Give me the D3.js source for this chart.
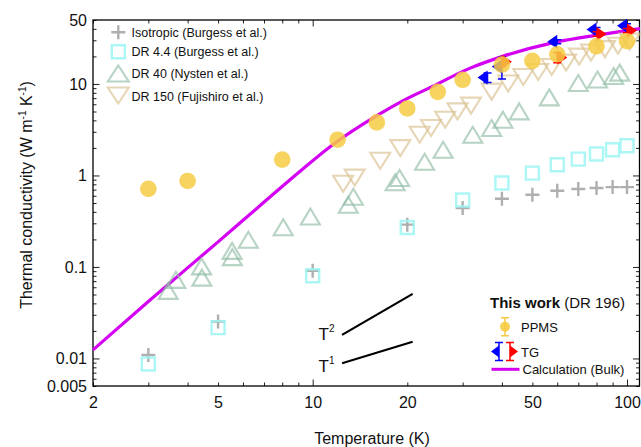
<!DOCTYPE html>
<html>
<head>
<meta charset="utf-8">
<script src="https://cdn.jsdelivr.net/npm/d3@7"></script>
<style>
  body { margin: 0; background: #fff; }
  svg text { font-family: "Liberation Sans", Arial, sans-serif; fill: #111; }
</style>
</head>
<body>
<div id="chart"></div>
<script>
// values (T in K, kappa in W m-1 K-1)
const isoT = [3, 5, 10, 20, 30, 40, 50, 60, 70, 80, 90, 100];
const isoK = [0.0109, 0.0253, 0.091, 0.29, 0.44, 0.556, 0.615, 0.68, 0.71, 0.728, 0.746, 0.746];

const dr44T = [3, 5, 10, 20, 30, 40, 50, 60, 70, 80, 90, 100];
const dr44K = [0.0087, 0.0217, 0.08, 0.27, 0.54, 0.826, 1.06, 1.31, 1.51, 1.715, 1.91, 2.11];

const dr40T = [3.47, 3.67, 4.43, 4.44, 5.54, 5.55, 6.24, 8.06, 9.83, 12.98, 13.47, 18.3, 18.9,
               22.7, 26.0, 32.3, 37.1, 40.3, 45.4, 56.6, 70.0, 80.6, 90.7, 94.8];
const dr40K = [0.0548, 0.0722, 0.1015, 0.0764, 0.150, 0.128, 0.198, 0.272, 0.356, 0.478, 0.585, 0.843, 0.937,
               1.41, 1.91, 2.79, 3.30, 4.07, 5.01, 7.14, 10.25, 11.2, 12.2, 13.3];

const dr150T = [12.5, 13.6, 16.4, 19.0, 21.9, 23.8, 26.4, 28.9, 31.9, 37.1, 41.9, 46.8, 52.2, 57.6,
                64.0, 70.4, 76.8, 85.1, 93.6, 102];
const dr150K = [0.811, 0.948, 1.45, 1.99, 2.79, 3.30, 4.07, 5.01, 5.79, 8.24, 10.1, 11.9, 13.5, 15.3,
                17.1, 19.9, 22.0, 24.0, 26.2, 29.0];

const ppmsT = [3, 4, 8, 12, 16, 20, 25, 30, 40, 50, 60, 80, 100];
const ppmsK = [0.715, 0.87, 1.49, 2.46, 3.8, 5.4, 8.2, 11.1, 16.3, 17.9, 21.1, 25.8, 29.3];

const tgBlueT = [36, 40, 60, 80, 100];
const tgBlueK = [11.8, 15.5, 29.0, 39.3, 43.4];
const tgBlueErr = [1.4, 4.2, 1.5, 2.0, 2.0];

const tgRedT = [40, 60, 80, 100];
const tgRedK = [17.5, 19.5, 35.2, 38.3];
const tgRedErr = [2.0, 2.5, 2.0, 2.0];

const calcT = [2, 3, 5, 7.14, 9.24, 11.36, 16.4, 20.25, 23.6, 31.7, 40, 58.4, 82.2, 110];
const calcK = [0.0124, 0.042, 0.188, 0.542, 1.154, 2.06, 4.73, 7.08, 9.11, 14.9, 19.9, 28.3, 34.6, 40.3];

// guide power laws
const t2T = [12.4, 20.8], t2K = [0.0181, 0.0508];
const t1T = [12.4, 20.8], t1K = [0.00886, 0.0152];

// tick labels
const xLabels = [2, 5, 10, 20, 50, 100];
const yLabels = [0.005, 0.01, 0.1, 1, 10, 50];

const width = 641, height = 447;
const margin = {top: 20, right: 1, bottom: 61, left: 93};

const svg = d3.select("#chart").append("svg")
  .attr("width", width)
  .attr("height", height);

const x = d3.scaleLog().domain([2, 110]).range([margin.left, width - margin.right]);
const y = d3.scaleLog().domain([0.005, 50]).range([height - margin.bottom, margin.top]);

const x0 = margin.left, x1 = width - margin.right, y0 = height - margin.bottom, y1 = margin.top;

// all minor/major tick positions
const xTicks = [1, 10, 100].flatMap(d => d3.range(1, 10).map(m => m * d)).filter(v => v >= 2 && v <= 110);
const yTicks = [0.001, 0.01, 0.1, 1, 10].flatMap(d => d3.range(1, 10).map(m => m * d))
  .filter(v => v >= 0.0049 && v <= 50.01);

const near = (v, arr) => arr.find(a => Math.abs(a - v) / a < 1e-6);
const isDecade = v => Math.abs(Math.log10(v) - Math.round(Math.log10(v))) < 1e-6;
const tickLen = v => isDecade(v) ? 6.5 : 3.5;

// Axes (ticks point inward)
const gb = svg.append("g").attr("transform", `translate(0,${y0})`)
  .call(d3.axisBottom(x).tickValues(xTicks).tickSizeInner(-3.5).tickSizeOuter(0).tickPadding(11)
    .tickFormat(d => near(d, xLabels) !== undefined ? String(near(d, xLabels)) : ""));
gb.selectAll(".tick line").attr("y2", d => -tickLen(d));

const gt = svg.append("g").attr("transform", `translate(0,${y1})`)
  .call(d3.axisTop(x).tickValues(xTicks).tickSizeInner(-3.5).tickSizeOuter(0).tickFormat(""));
gt.selectAll(".tick line").attr("y2", d => tickLen(d));

const gl = svg.append("g").attr("transform", `translate(${x0},0)`)
  .call(d3.axisLeft(y).tickValues(yTicks).tickSizeInner(-4).tickSizeOuter(0).tickPadding(6)
    .tickFormat(d => near(d, yLabels) !== undefined ? String(near(d, yLabels)) : ""));
gl.selectAll(".tick line").attr("x2", d => tickLen(d));

const gr = svg.append("g").attr("transform", `translate(${x1 - 0.5},0)`)
  .call(d3.axisRight(y).tickValues(yTicks).tickSizeInner(-4).tickSizeOuter(0).tickFormat(""));
gr.selectAll(".tick line").attr("x2", d => -tickLen(d));

svg.selectAll(".domain").remove();
[gb, gt, gl, gr].forEach(g => {
  g.attr("font-size", 16).attr("font-family", null);
  g.selectAll(".tick line").attr("stroke", "#222").attr("stroke-width", 1);
  g.selectAll(".tick text").attr("fill", "#111");
});

svg.append("rect")
  .attr("x", x0).attr("y", y1)
  .attr("width", x1 - x0 - 0.5).attr("height", y0 - y1)
  .attr("fill", "none").attr("stroke", "#000").attr("stroke-width", 1.3);

// axis titles
svg.append("text")
  .attr("x", 372).attr("y", 444)
  .attr("text-anchor", "middle").attr("font-size", 16)
  .text("Temperature (K)");

const yt = svg.append("text")
  .attr("transform", "translate(32,195) rotate(-90)")
  .attr("text-anchor", "middle").attr("font-size", 16);
yt.append("tspan").text("Thermal conductivity (W m");
yt.append("tspan").attr("dy", -6).attr("font-size", 10).text("-1");
yt.append("tspan").attr("dy", 6).text(" K");
yt.append("tspan").attr("dy", -6).attr("font-size", 10).text("-1");
yt.append("tspan").attr("dy", 6).text(")");

// marker shapes
const crossPath = s => `M${-s},0H${s}M0,${-s}V${s}`;
const squarePath = s => `M${-s},${-s}H${s}V${s}H${-s}Z`;
const triUp = (w, h) => `M0,${-h / 2}L${w / 2},${h / 2}L${-w / 2},${h / 2}Z`;
const triDown = (w, h) => `M0,${h / 2}L${w / 2},${-h / 2}L${-w / 2},${-h / 2}Z`;
const caretLeft = (w, h) => `M0,${-h / 2}L${-w},0L0,${h / 2}Z`;
const caretRight = (w, h) => `M0,${-h / 2}L${w},0L0,${h / 2}Z`;

const col = {
  iso: "#a6a6a6", dr44: "#9ef5f5", dr40: "#8fbba3", dr150: "#d9c08f",
  gold: "#f6cb43", calc: "#d400f2", blue: "#0000ff", red: "#ff0000"
};

const plot = svg.append("g");

// calculation curve
const line = d3.line().x(d => x(d[0])).y(d => y(d[1])).curve(d3.curveMonotoneX);
plot.append("path")
  .datum(d3.zip(calcT, calcK))
  .attr("d", line)
  .attr("fill", "none").attr("stroke", col.calc).attr("stroke-width", 3.2);

function drawSeries(ts, ks, pathStr, stroke, sw, op) {
  plot.append("g").selectAll("path")
    .data(d3.zip(ts, ks))
    .join("path")
    .attr("transform", d => `translate(${x(d[0])},${y(d[1])})`)
    .attr("d", pathStr)
    .attr("fill", "none")
    .attr("stroke", stroke)
    .attr("stroke-width", sw)
    .attr("stroke-opacity", op);
}

drawSeries(isoT, isoK, crossPath(7), col.iso, 2.4, 0.9);
drawSeries(dr44T, dr44K, squarePath(6.5), col.dr44, 2.4, 0.85);
drawSeries(dr40T, dr40K, triUp(19, 16), col.dr40, 2.1, 0.65);
drawSeries(dr150T, dr150K, triDown(20, 16), col.dr150, 2.1, 0.65);

// TG points with error bars
function drawTG(ts, ks, errs, color, shape) {
  const g = plot.append("g").attr("stroke", color).attr("fill", color);
  const pts = ts.map((t, i) => ({t: t, k: ks[i], e: errs[i]}));
  g.selectAll("line.eb").data(pts).join("line")
    .attr("x1", d => x(d.t)).attr("x2", d => x(d.t))
    .attr("y1", d => y(d.k - d.e)).attr("y2", d => y(d.k + d.e))
    .attr("stroke-width", 1.5);
  g.selectAll("path.cap").data(pts).join("path")
    .attr("d", d => `M${x(d.t) - 4},${y(d.k - d.e)}h8M${x(d.t) - 4},${y(d.k + d.e)}h8`)
    .attr("stroke-width", 1.5).attr("fill", "none");
  g.selectAll("path.mk").data(pts).join("path")
    .attr("transform", d => `translate(${x(d.t)},${y(d.k)})`)
    .attr("d", shape).attr("stroke", "none");
}
drawTG(tgBlueT, tgBlueK, tgBlueErr, col.blue, caretLeft(10, 14));
drawTG(tgRedT, tgRedK, tgRedErr, col.red, caretRight(10, 14));

// PPMS circles
plot.append("g").selectAll("circle")
  .data(d3.zip(ppmsT, ppmsK))
  .join("circle")
  .attr("cx", d => x(d[0])).attr("cy", d => y(d[1]))
  .attr("r", 8.3)
  .attr("fill", col.gold).attr("fill-opacity", 0.85);

// power-law guides
[[t2T, t2K], [t1T, t1K]].forEach(([ts, ks]) => {
  svg.append("path")
    .datum(d3.zip(ts, ks))
    .attr("d", d3.line().x(d => x(d[0])).y(d => y(d[1])))
    .attr("stroke", "#000").attr("stroke-width", 2.2).attr("fill", "none");
});
function powLabel(px, py, exp) {
  const t = svg.append("text").attr("x", px).attr("y", py).attr("font-size", 17);
  t.append("tspan").text("T");
  t.append("tspan").attr("dy", -8).attr("font-size", 10).text(exp);
}
powLabel(318.5, 339.5, "2");
powLabel(318.5, 371.5, "1");

// legend, literature data
const leg = svg.append("g");
const legRows = [
  {cy: 32.3, ty: 36.5, label: "Isotropic (Burgess et al.)", d: crossPath(7), c: col.iso, op: 0.9, sw: 2.4},
  {cy: 51.7, ty: 56, label: "DR 4.4 (Burgess et al.)", d: squarePath(6.5), c: col.dr44, op: 0.85, sw: 2.4},
  {cy: 73.5, ty: 77.8, label: "DR 40 (Nysten et al.)", d: triUp(21, 16), c: col.dr40, op: 0.65, sw: 2.1},
  {cy: 95.5, ty: 100.5, label: "DR 150 (Fujishiro et al.)", d: triDown(21, 16), c: col.dr150, op: 0.65, sw: 2.1}
];
legRows.forEach(r => {
  leg.append("path").attr("transform", `translate(118.3,${r.cy})`).attr("d", r.d)
    .attr("fill", "none").attr("stroke", r.c).attr("stroke-width", r.sw).attr("stroke-opacity", r.op);
  leg.append("text").attr("x", 131.5).attr("y", r.ty).attr("font-size", 12.5).text(r.label);
});

// legend, this work
const leg2 = svg.append("g");
const title = leg2.append("text").attr("x", 490).attr("y", 308).attr("font-size", 15);
title.append("tspan").attr("font-weight", "bold").text("This work");
title.append("tspan").text(" (DR 196)");

function legErr(cx, cy, color) {
  leg2.append("path")
    .attr("d", `M${cx},${cy - 9}V${cy + 9}M${cx - 4},${cy - 9}h8M${cx - 4},${cy + 9}h8`)
    .attr("stroke", color).attr("stroke-width", 1.5).attr("fill", "none");
}
legErr(505, 326.7, col.gold);
leg2.append("circle").attr("cx", 505).attr("cy", 326.7).attr("r", 5)
  .attr("fill", col.gold).attr("fill-opacity", 0.9);
leg2.append("text").attr("x", 521).attr("y", 331.5).attr("font-size", 13).text("PPMS");

legErr(499, 351.5, col.blue);
leg2.append("path").attr("transform", "translate(499,351.5)").attr("d", caretLeft(8, 12)).attr("fill", col.blue);
legErr(510, 351.5, col.red);
leg2.append("path").attr("transform", "translate(510,351.5)").attr("d", caretRight(8, 12)).attr("fill", col.red);
leg2.append("text").attr("x", 521).attr("y", 356.5).attr("font-size", 13).text("TG");

leg2.append("line").attr("x1", 491.5).attr("x2", 519.5).attr("y1", 369.3).attr("y2", 369.3)
  .attr("stroke", col.calc).attr("stroke-width", 3);
leg2.append("text").attr("x", 522.5).attr("y", 373.8).attr("font-size", 13).text("Calculation (Bulk)");
</script>
</body>
</html>
